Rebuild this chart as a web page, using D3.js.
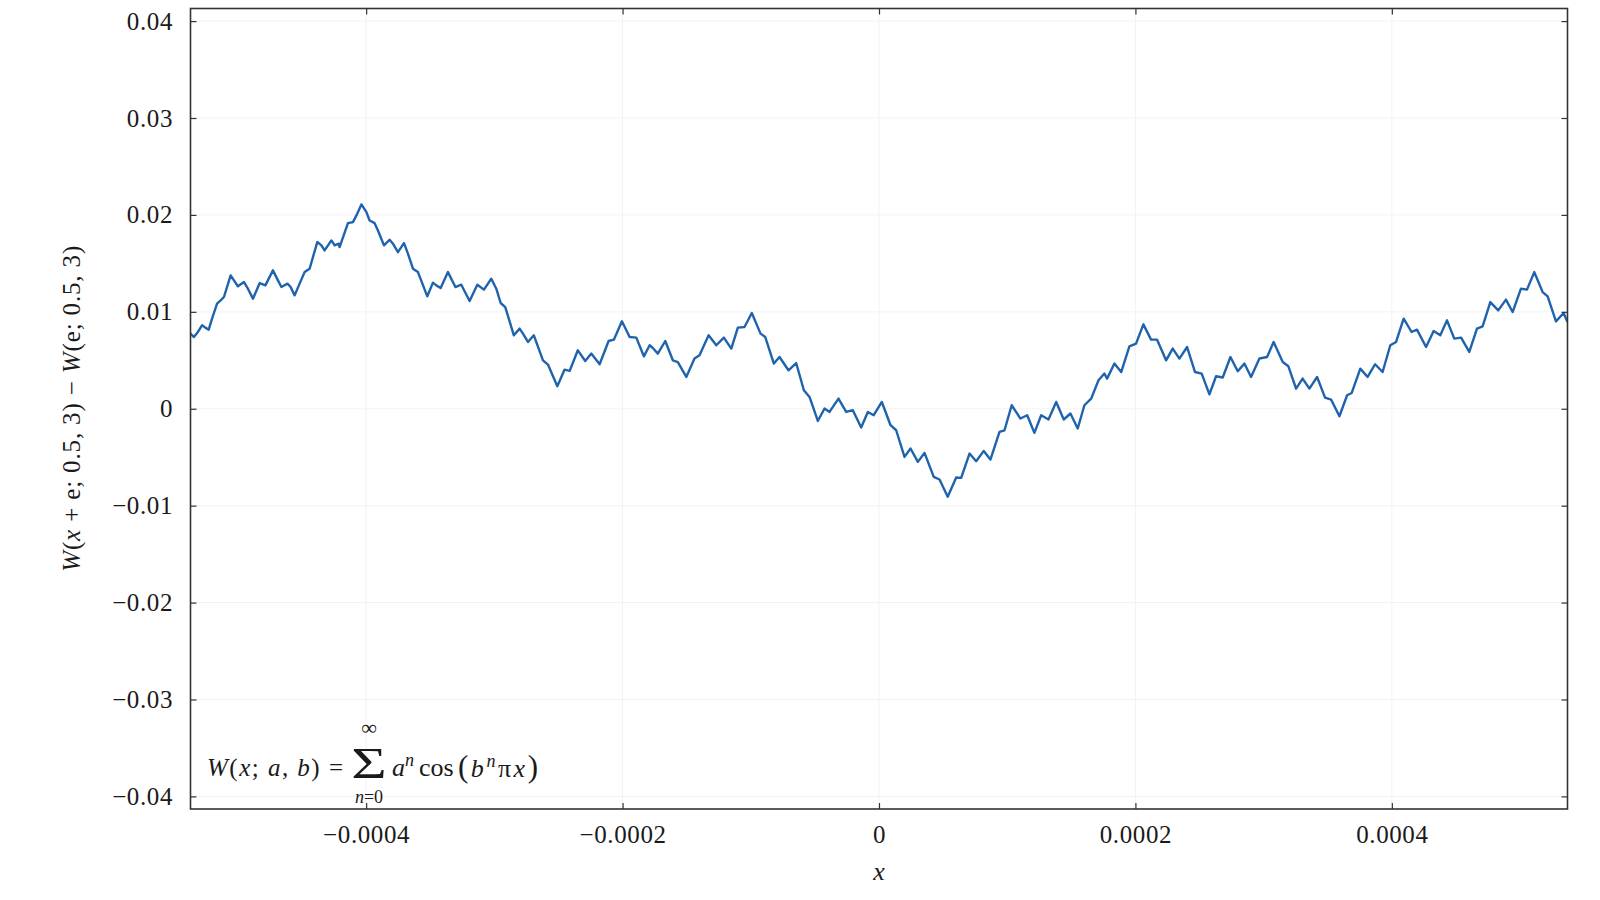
<!DOCTYPE html>
<html>
<head>
<meta charset="utf-8">
<script src="https://cdn.jsdelivr.net/npm/d3@7"></script>
<style>
  html, body { margin: 0; padding: 0; background: #fff; }
  svg { display: block; }
  .serif { font-family: "Liberation Serif", "Times New Roman", serif; fill: #1a1a1a; }
</style>
</head>
<body>
<svg id="chart" width="1600" height="900"></svg>
<script>
// ---- data ----
const xValues = [
  -537e-6, -534.3e-6, -531.2e-6, -528.0e-6, -525.4e-6, -522.8e-6, -520.2e-6, -516.3e-6, -513.5e-6, -510.9e-6,
  -505.7e-6, -500.0e-6, -495.3e-6, -492.2e-6, -488.3e-6, -483.0e-6, -478.6e-6, -472.7e-6, -468.8e-6, -466.1e-6,
  -461.4e-6, -458.9e-6, -455.8e-6, -451.9e-6, -448.0e-6, -444.1e-6, -441.5e-6, -438.1e-6, -434.9e-6, -432.4e-6,
  -427.1e-6, -424.6e-6, -421.4e-6, -420.7e-6, -414.2e-6, -410.3e-6, -407.6e-6, -403.7e-6, -399.8e-6, -397.3e-6,
  -393.4e-6, -390.8e-6, -386.1e-6, -381.7e-6, -379.1e-6, -375.2e-6, -370.5e-6, -367.4e-6, -363.5e-6, -359.6e-6,
  -352.3e-6, -347.9e-6, -345.3e-6, -341.9e-6, -336.2e-6, -330.4e-6, -325.8e-6, -319.3e-6, -313.3e-6, -308.1e-6,
  -302.4e-6, -298.5e-6, -295.1e-6, -291.5e-6, -284.8e-6, -280.3e-6, -277.7e-6, -273.8e-6, -269.2e-6, -262.1e-6,
  -258.2e-6, -250.9e-6, -245.2e-6, -241.3e-6, -234.9e-6, -229.1e-6, -224.4e-6, -217.9e-6, -210.9e-6, -206.8e-6,
  -200.5e-6, -194.5e-6, -189.3e-6, -183.4e-6, -178.9e-6, -176.4e-6, -172.5e-6, -166.7e-6, -160.8e-6, -156.9e-6,
  -150.3e-6, -143.9e-6, -140.0e-6, -132.9e-6, -126.9e-6, -121.0e-6, -115.2e-6, -110.1e-6, -104.9e-6, -99.2e-6,
  -92.4e-6, -88.7e-6, -82.0e-6, -77.6e-6, -70.6e-6, -64.6e-6, -58.6e-6, -54.2e-6, -47.7e-6, -42.5e-6,
  -38.6e-6, -31.6e-6, -25.6e-6, -20.4e-6, -13.9e-6, -8.7e-6, -4.1e-6, 2.2e-6, 9.0e-6, 13.4e-6,
  19.9e-6, 24.6e-6, 30.3e-6, 35.5e-6, 42.7e-6, 47.2e-6, 53.6e-6, 60.2e-6, 64.1e-6, 70.6e-6,
  75.8e-6, 81.7e-6, 86.9e-6, 94.0e-6, 97.9e-6, 103.5e-6, 110.3e-6, 115.6e-6, 121.2e-6, 126.5e-6,
  132.2e-6, 138.2e-6, 144.1e-6, 149.3e-6, 155.0e-6, 160.2e-6, 165.5e-6, 171.2e-6, 175.8e-6, 177.9e-6,
  183.6e-6, 188.9e-6, 195.3e-6, 200.5e-6, 206.2e-6, 212.2e-6, 216.9e-6, 223.9e-6, 229.1e-6, 234.3e-6,
  240.3e-6, 246.5e-6, 251.7e-6, 257.7e-6, 262.9e-6, 268.1e-6, 274.1e-6, 279.8e-6, 285.0e-6, 290.2e-6,
  296.7e-6, 302.7e-6, 307.8e-6, 314.9e-6, 319.3e-6, 325.3e-6, 330.4e-6, 335.7e-6, 341.7e-6, 347.9e-6,
  352.6e-6, 359.1e-6, 365.1e-6, 368.7e-6, 375.4e-6, 381.1e-6, 386.9e-6, 392.8e-6, 398.8e-6, 403.3e-6,
  409.2e-6, 415.4e-6, 419.6e-6, 426.7e-6, 432.6e-6, 437.8e-6, 443.0e-6, 448.7e-6, 454.0e-6, 460.4e-6,
  466.4e-6, 470.8e-6, 476.8e-6, 483.0e-6, 489.0e-6, 494.2e-6, 500.7e-6, 505.4e-6, 511.1e-6, 517.6e-6,
  521.5e-6, 528.0e-6, 534.0e-6, 537e-6
];
const yValues = [
  7.75e-3, 7.40e-3, 7.92e-3, 8.61e-3, 8.37e-3, 8.16e-3, 9.30e-3, 10.85e-3, 11.19e-3, 11.53e-3,
  13.76e-3, 12.63e-3, 13.07e-3, 12.39e-3, 11.36e-3, 12.97e-3, 12.73e-3, 14.28e-3, 13.25e-3, 12.56e-3,
  12.91e-3, 12.56e-3, 11.70e-3, 12.91e-3, 14.10e-3, 14.45e-3, 15.65e-3, 17.20e-3, 16.86e-3, 16.34e-3,
  17.37e-3, 16.86e-3, 17.03e-3, 16.68e-3, 19.15e-3, 19.26e-3, 19.95e-3, 21.08e-3, 20.29e-3, 19.43e-3,
  19.15e-3, 18.40e-3, 16.86e-3, 17.44e-3, 17.03e-3, 16.16e-3, 17.09e-3, 16.00e-3, 14.45e-3, 14.10e-3,
  11.60e-3, 13.01e-3, 12.73e-3, 12.45e-3, 14.10e-3, 12.56e-3, 12.80e-3, 11.11e-3, 12.80e-3, 12.29e-3,
  13.42e-3, 12.39e-3, 10.91e-3, 10.49e-3, 7.58e-3, 8.27e-3, 7.75e-3, 6.89e-3, 7.58e-3, 5.00e-3,
  4.56e-3, 2.32e-3, 4.04e-3, 3.90e-3, 6.03e-3, 4.93e-3, 5.69e-3, 4.59e-3, 6.99e-3, 7.13e-3,
  9.02e-3, 7.40e-3, 7.34e-3, 5.41e-3, 6.55e-3, 6.27e-3, 5.69e-3, 6.99e-3, 5.00e-3, 4.82e-3,
  3.28e-3, 5.18e-3, 5.52e-3, 7.58e-3, 6.55e-3, 7.34e-3, 6.21e-3, 8.37e-3, 8.43e-3, 9.88e-3,
  7.75e-3, 7.40e-3, 4.66e-3, 5.34e-3, 3.97e-3, 4.72e-3, 1.91e-3, 1.22e-3, -1.26e-3, 0.02e-3,
  -0.33e-3, 1.05e-3, -0.33e-3, -0.15e-3, -1.94e-3, -0.33e-3, -0.67e-3, 0.70e-3, -1.70e-3, -2.22e-3,
  -4.97e-3, -4.10e-3, -5.48e-3, -4.56e-3, -7.03e-3, -7.30e-3, -9.09e-3, -7.09e-3, -7.13e-3, -4.62e-3,
  -5.41e-3, -4.35e-3, -5.24e-3, -2.39e-3, -2.22e-3, 0.36e-3, -1.01e-3, -0.67e-3, -2.49e-3, -0.67e-3,
  -1.11e-3, 0.70e-3, -1.11e-3, -0.49e-3, -2.04e-3, 0.36e-3, 1.05e-3, 2.94e-3, 3.63e-3, 3.11e-3,
  4.66e-3, 3.79e-3, 6.44e-3, 6.72e-3, 8.71e-3, 7.13e-3, 7.13e-3, 5.00e-3, 6.21e-3, 5.18e-3,
  6.37e-3, 3.79e-3, 3.63e-3, 1.49e-3, 3.35e-3, 3.22e-3, 5.34e-3, 3.87e-3, 4.66e-3, 3.28e-3,
  5.18e-3, 5.34e-3, 6.89e-3, 4.82e-3, 4.38e-3, 2.08e-3, 3.11e-3, 2.08e-3, 3.28e-3, 1.15e-3,
  0.95e-3, -0.77e-3, 1.39e-3, 1.63e-3, 4.14e-3, 3.28e-3, 4.59e-3, 3.79e-3, 6.55e-3, 6.89e-3,
  9.30e-3, 7.92e-3, 8.16e-3, 6.37e-3, 8.02e-3, 7.58e-3, 9.12e-3, 7.24e-3, 7.34e-3, 5.86e-3,
  8.27e-3, 8.51e-3, 11.01e-3, 10.15e-3, 11.26e-3, 9.98e-3, 12.39e-3, 12.29e-3, 14.10e-3, 12.04e-3,
  11.60e-3, 9.02e-3, 9.88e-3, 8.95e-3
];
const xTicks = [-0.0004, -0.0002, 0, 0.0002, 0.0004];
const xTickLabels = ["\u22120.0004", "\u22120.0002", "0", "0.0002", "0.0004"];
const yTicks = [-0.04, -0.03, -0.02, -0.01, 0, 0.01, 0.02, 0.03, 0.04];
const yTickLabels = ["\u22120.04", "\u22120.03", "\u22120.02", "\u22120.01", "0", "0.01", "0.02", "0.03", "0.04"];
const xDomain = [-0.000537, 0.000537];
const yDomain = [-0.0413, 0.0413];

// ---- layout ----
const svg = d3.select("#chart");
const L = 190.5, R = 1567.5, T = 8.5, B = 809;
const x = d3.scaleLinear().domain(xDomain).range([L, R]);
const y = d3.scaleLinear().domain(yDomain).range([B, T]);

svg.append("rect").attr("width", 1600).attr("height", 900).attr("fill", "#fff");

// faint grid
const grid = svg.append("g").attr("stroke", "#f3f3f3").attr("stroke-width", 1);
grid.selectAll("line.gx").data(xTicks).join("line")
  .attr("x1", d => x(d)).attr("x2", d => x(d)).attr("y1", T).attr("y2", B);
grid.selectAll("line.gy").data(yTicks).join("line")
  .attr("y1", d => y(d)).attr("y2", d => y(d)).attr("x1", L).attr("x2", R);

// curve
const data = xValues.map((v, i) => [v, yValues[i]]);
svg.append("defs").append("clipPath").attr("id", "clip")
  .append("rect").attr("x", L).attr("y", T).attr("width", R - L).attr("height", B - T);
svg.append("path").datum(data)
  .attr("clip-path", "url(#clip)")
  .attr("fill", "none")
  .attr("stroke", "#2063ad")
  .attr("stroke-width", 2.4)
  .attr("stroke-linejoin", "round")
  .attr("d", d3.line().x(d => x(d[0])).y(d => y(d[1])));

// axes
function styleAxis(g, showText) {
  g.select(".domain").remove();
  g.selectAll(".tick line").attr("stroke", "#333").attr("stroke-width", 1.2);
  g.selectAll(".tick text").attr("class", "serif").style("font-size", "25px")
    .style("letter-spacing", "0.6px").attr("fill", "#1a1a1a");
  if (!showText) g.selectAll(".tick text").remove();
}
svg.append("g").attr("transform", `translate(0,${B})`)
  .call(d3.axisBottom(x).tickValues(xTicks).tickFormat((d, i) => xTickLabels[i]).tickSizeInner(-6).tickSizeOuter(0).tickPadding(16))
  .call(g => styleAxis(g, true))
  .call(g => g.selectAll(".tick text").attr("dy", "0.71em"));
svg.append("g").attr("transform", `translate(0,${T})`)
  .call(d3.axisTop(x).tickValues(xTicks).tickSizeInner(-6).tickSizeOuter(0))
  .call(g => styleAxis(g, false));
svg.append("g").attr("transform", `translate(${L},0)`)
  .call(d3.axisLeft(y).tickValues(yTicks).tickFormat((d, i) => yTickLabels[i]).tickSizeInner(-6).tickSizeOuter(0).tickPadding(17.5))
  .call(g => styleAxis(g, true));
svg.append("g").attr("transform", `translate(${R},0)`)
  .call(d3.axisRight(y).tickValues(yTicks).tickSizeInner(-6).tickSizeOuter(0))
  .call(g => styleAxis(g, false));

// frame
svg.append("rect").attr("x", L).attr("y", T).attr("width", R - L).attr("height", B - T)
  .attr("fill", "none").attr("stroke", "#333").attr("stroke-width", 1.6);

// axis labels
svg.append("text").attr("class", "serif").attr("x", (L + R) / 2).attr("y", 880)
  .attr("text-anchor", "middle").style("font-size", "26px").style("font-style", "italic").text("x");

const yl = svg.append("text").attr("class", "serif")
  .attr("transform", `translate(80,${(T + B) / 2}) rotate(-90)`)
  .attr("text-anchor", "middle").style("font-size", "25px")
  .attr("textLength", 326).attr("lengthAdjust", "spacing");
[["W", true], ["(", false], ["x", true], [" + e; 0.5, 3) \u2212 ", false], ["W", true], ["(e; 0.5, 3)", false]]
  .forEach(([t, it]) => yl.append("tspan").style("font-style", it ? "italic" : "normal").text(t));

// formula annotation
const f1 = svg.append("text").attr("class", "serif").attr("x", 207).attr("y", 776).style("font-size", "25px")
  .attr("textLength", 136).attr("lengthAdjust", "spacing");
[["W", true], ["(", false], ["x", true], ["; ", false], ["a", true], [", ", false], ["b", true], [") =", false]]
  .forEach(([t, it]) => f1.append("tspan").style("font-style", it ? "italic" : "normal").text(t));
svg.append("text").attr("class", "serif")
  .attr("transform", "translate(369,778) scale(1.45,1.05)")
  .attr("text-anchor", "middle").style("font-size", "42px").text("\u03A3");
svg.append("text").attr("class", "serif").attr("x", 369).attr("y", 735)
  .attr("text-anchor", "middle").style("font-size", "22px").text("\u221E");
const nz = svg.append("text").attr("class", "serif").attr("x", 369).attr("y", 803)
  .attr("text-anchor", "middle").style("font-size", "18px");
nz.append("tspan").style("font-style", "italic").text("n");
nz.append("tspan").text("=0");
const f2 = svg.append("text").attr("class", "serif").attr("x", 392).attr("y", 776).style("font-size", "26px");
f2.append("tspan").style("font-style", "italic").text("a");
f2.append("tspan").style("font-style", "italic").style("font-size", "18px").attr("dy", -10).text("n");
f2.append("tspan").attr("dy", 10).attr("x", 419).text("cos");
const f3 = svg.append("text").attr("class", "serif").attr("x", 458).attr("y", 777).style("font-size", "26px")
  .attr("textLength", 80).attr("lengthAdjust", "spacing");
f3.append("tspan").style("font-size", "31px").text("(");
f3.append("tspan").style("font-style", "italic").text("b");
f3.append("tspan").style("font-style", "italic").style("font-size", "18px").attr("dy", -10).text("n");
f3.append("tspan").attr("dy", 10).text("\u03C0");
f3.append("tspan").style("font-style", "italic").text("x");
f3.append("tspan").style("font-size", "31px").text(")");
</script>
</body>
</html>
